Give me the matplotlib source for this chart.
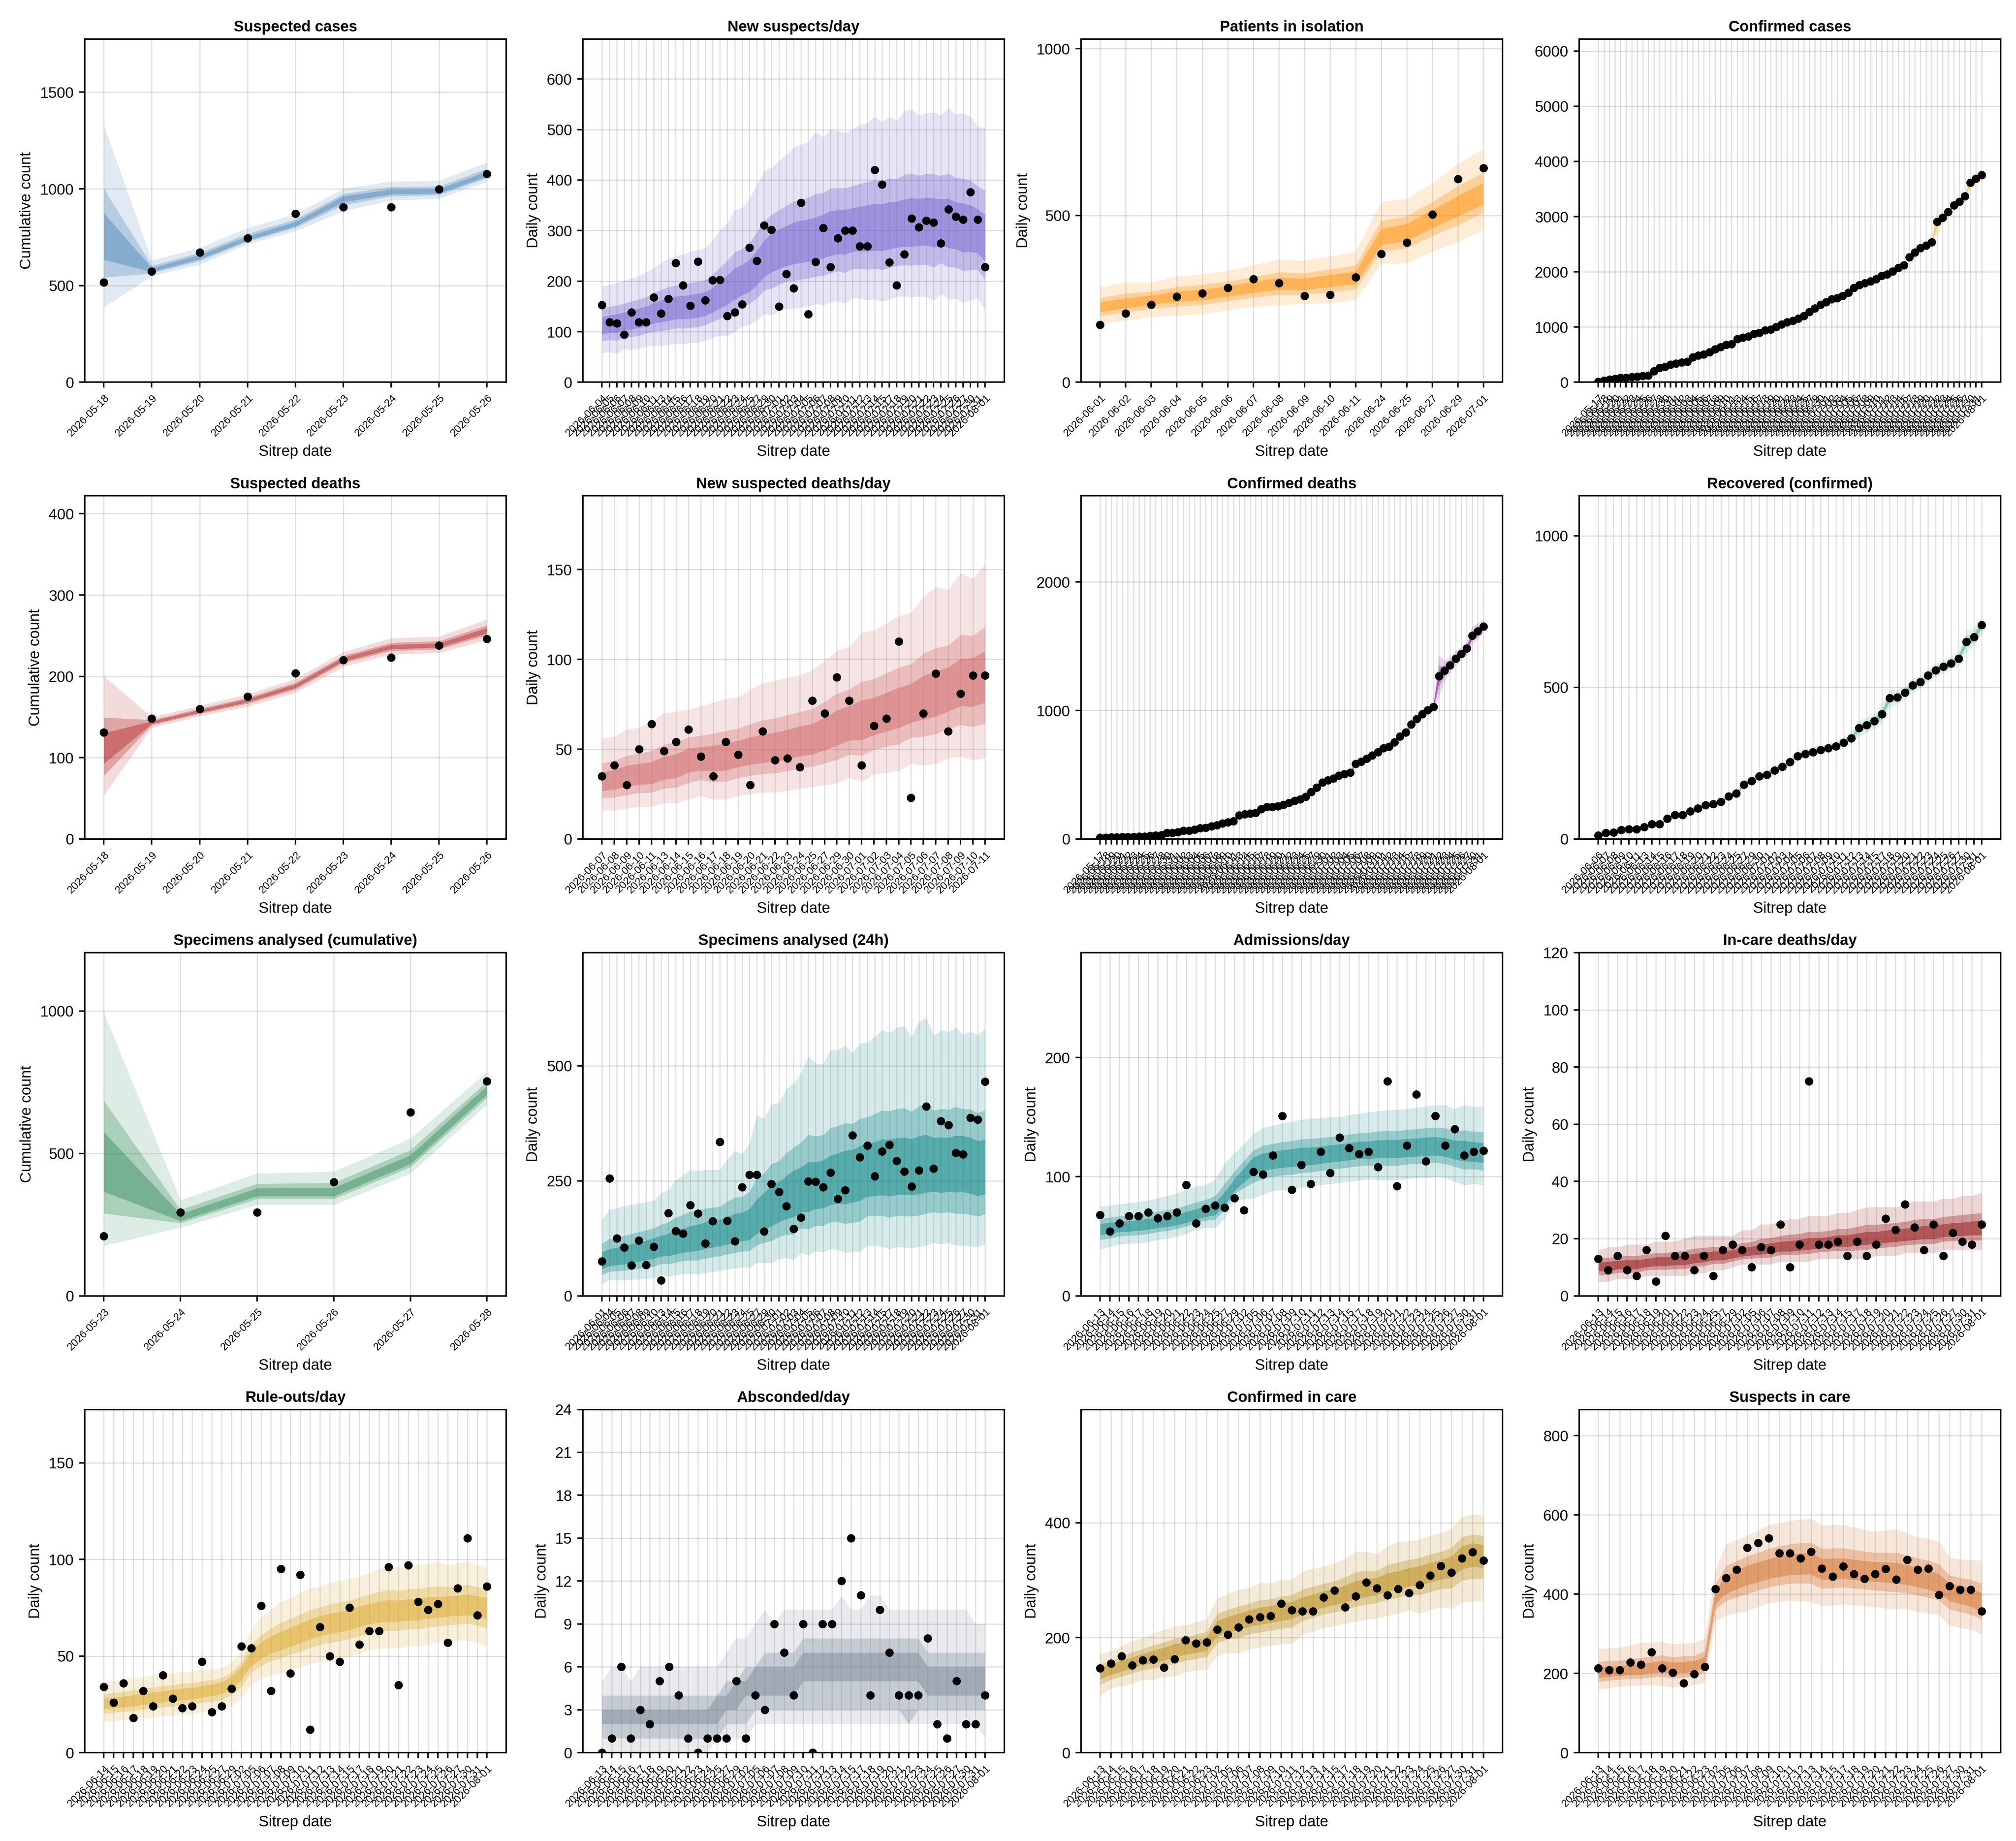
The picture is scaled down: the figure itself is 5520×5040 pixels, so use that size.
import numpy as np
import matplotlib
matplotlib.use("Agg")
import matplotlib.pyplot as plt
from matplotlib.ticker import MultipleLocator

plt.rcParams['font.family'] = ['Liberation Sans', 'DejaVu Sans']


def dates(spec):
    # spec: list of (month, [days]) -> "2026-MM-DD" labels
    out = []
    for month, days in spec:
        out += [f"2026-{month:02d}-{d:02d}" for d in days]
    return out


# ---- sitrep dates per panel ----
dates_suspected = dates([(5, [18, 19, 20, 21, 22, 23, 24, 25, 26])])
dates_spec_cum = dates([(5, [23, 24, 25, 26, 27, 28])])
dates_isolation = dates([(6, [1, 2, 3, 4, 5, 6, 7, 8, 9, 10, 11, 24, 25, 27, 29]), (7, [1])])
dates_new_susp = dates([(6, [4, 5, 6, 7, 8, 9, 10, 11, 13, 14, 15, 16, 17, 18, 19, 20, 21, 22, 23, 24, 25, 27, 29, 30]),
                        (7, [1, 2, 3, 4, 5, 6, 7, 8, 9, 10, 11, 12, 13, 14, 15, 17, 18, 19, 20, 21, 22, 23, 24, 25, 26, 27, 30, 31]),
                        (8, [1])])
dates_spec24 = dates([(6, [1, 4, 5, 6, 7, 8, 9, 10, 13, 14, 15, 16, 17, 18, 19, 20, 21, 22, 23, 24, 25, 27, 29, 30]),
                      (7, [1, 2, 3, 4, 5, 6, 7, 8, 9, 10, 11, 12, 13, 14, 15, 17, 18, 19, 20, 21, 22, 23, 24, 25, 26, 27, 30, 31]),
                      (8, [1])])
dates_new_sd = dates([(6, [7, 8, 9, 10, 11, 13, 14, 15, 16, 17, 18, 19, 20, 21, 22, 23, 24, 25, 27, 29, 30]),
                      (7, [1, 2, 3, 4, 5, 6, 7, 8, 9, 10, 11])])
dates_conf = dates([(5, [17, 18, 19, 20, 21, 22, 23, 24, 25, 26, 27, 28, 30, 31]),
                    (6, [1, 2, 3, 4, 5, 6, 7, 8, 9, 10, 11, 13, 14, 15, 16, 17, 18, 19, 20, 21, 22, 23, 24, 25, 27, 29, 30]),
                    (7, [1, 2, 3, 4, 5, 6, 7, 8, 9, 10, 11, 12, 13, 14, 15, 17, 18, 19, 20, 21, 22, 23, 24, 25, 26, 27, 30, 31]),
                    (8, [1])])
dates_recov = dates([(6, [6, 7, 8, 9, 10, 11, 13, 14, 15, 16, 17, 18, 19, 20, 21, 22, 23, 24, 25, 27, 29, 30]),
                     (7, [1, 2, 3, 4, 5, 6, 7, 8, 9, 10, 11, 12, 13, 14, 15, 17, 18, 19, 20, 21, 22, 23, 24, 25, 26, 27, 30, 31]),
                     (8, [1])])
dates_admit = dates([(6, [13, 14, 15, 16, 17, 18, 19, 20, 21, 22, 23, 24, 25, 27, 29]),
                     (7, [2, 5, 6, 7, 8, 9, 10, 11, 12, 13, 14, 15, 17, 18, 19, 20, 21, 22, 23, 24, 25, 26, 27, 30, 31]),
                     (8, [1])])
dates_ruleout = dates_admit[1:]
dates_care = dates([(6, [13, 14, 15, 16, 17, 18, 19, 20, 21, 22, 23]),
                    (7, [2, 5, 6, 7, 8, 9, 10, 11, 12, 13, 14, 15, 17, 18, 19, 20, 21, 22, 23, 24, 25, 26, 27, 30, 31]),
                    (8, [1])])

# ---- Suspected cases ----
obs_susp = [517, 574, 671, 745, 872, 905, 906, 998, 1077]
med_susp = [755, 578, 646, 740, 816, 949, 983, 986, 1074]
lo_susp = [387, 550, 609, 714, 782, 885, 941, 949, 1039]
hi_susp = [1329, 630, 695, 798, 869, 1001, 1039, 1042, 1137]

# ---- New suspects/day ----
obs_newsusp = [153, 119, 117, 94, 138, 119, 119, 168, 136, 165, 236, 192, 151, 239, 162, 202, 203, 131, 138, 154,
               266, 240, 310, 302, 150, 214, 186, 355, 135, 238, 305, 228, 285, 300, 300, 269, 269, 420, 391, 237,
               192, 253, 324, 307, 320, 316, 275, 342, 328, 322, 376, 322, 228]
med_newsusp = [113, 116, 118, 121, 125, 128, 131, 138, 142, 145, 148, 149, 150, 152, 155, 162, 172, 184, 195, 202,
               210, 225, 243, 259, 265, 271, 276, 279, 281, 282, 290, 295, 298, 300, 302, 304, 306, 307, 308, 311,
               313, 315, 317, 318, 320, 318, 317, 315, 310, 306, 304, 298, 286]
hi_newsusp = [190, 193, 196, 201, 206, 210, 218, 226, 236, 244, 250, 252, 259, 262, 265, 280, 300, 315, 341, 345,
              363, 390, 418, 425, 438, 450, 464, 470, 476, 495, 485, 500, 497, 493, 500, 509, 513, 526, 515, 525,
              518, 536, 540, 528, 532, 534, 528, 543, 530, 532, 525, 506, 503]
lo_newsusp = [58, 60, 57, 66, 64, 66, 71, 72, 72, 74, 77, 76, 78, 78, 83, 88, 92, 92, 100, 110,
              114, 122, 135, 133, 140, 145, 146, 148, 150, 155, 152, 158, 161, 156, 166, 166, 162, 164, 160, 164,
              169, 170, 168, 170, 169, 162, 175, 164, 166, 158, 162, 166, 143]

# ---- Patients in isolation ----
obs_iso = [172, 206, 233, 257, 267, 283, 309, 297, 259, 262, 315, 385, 419, 503, 609, 642]
med_iso = [226, 237, 248, 258, 264, 273, 285, 296, 294, 305, 313, 434, 451, 491, 528, 565]
lo_iso = [175, 186, 196, 200, 204, 217, 226, 232, 235, 238, 248, 355, 357, 392, 420, 457]
hi_iso = [285, 299, 299, 317, 324, 335, 351, 369, 364, 377, 392, 541, 550, 596, 655, 700]

# ---- Confirmed cases (cumulative) ----
obs_conf = [10, 30, 50, 63, 80, 85, 95, 100, 116, 122, 200, 260, 280, 323, 339, 360, 376, 450, 487, 508,
            545, 598, 635, 677, 688, 783, 809, 830, 878, 899, 941, 957, 1005, 1047, 1090, 1116, 1153, 1201, 1275, 1338,
            1407, 1455, 1502, 1524, 1561, 1624, 1709, 1762, 1793, 1830, 1867, 1926, 1957, 2010, 2074, 2121, 2269, 2349,
            2428, 2476, 2539, 2910, 2978, 3089, 3206, 3269, 3370, 3613, 3687, 3756]
spread_conf = [6, 8, 10, 10, 12, 12, 14, 14, 16, 18, 30, 25, 22, 22, 22, 22, 22, 25, 25, 25,
               25, 25, 25, 28, 28, 30, 30, 30, 30, 30, 32, 32, 35, 45, 40, 35, 35, 40, 40, 40,
               40, 40, 40, 40, 40, 40, 45, 45, 45, 45, 45, 45, 45, 45, 50, 50, 60, 55, 55, 55,
               55, 220, 90, 70, 70, 70, 70, 110, 90, 100]

# ---- Suspected deaths ----
obs_sdeath = [131, 148, 160, 175, 204, 220, 223, 238, 246]
med_sdeath = [112, 143, 157, 170, 188, 221, 236, 238, 256]
lo_sdeath = [54, 137, 151, 163, 180, 212, 227, 229, 245]
hi_sdeath = [200, 150, 164, 178, 197, 230, 247, 249, 270]

# ---- New suspected deaths/day ----
obs_newsd = [35, 41, 30, 50, 64, 49, 54, 61, 46, 35, 54, 47, 30, 60, 44, 45, 40, 77, 70, 90,
             77, 41, 63, 67, 110, 23, 70, 92, 60, 81, 91, 91]
med_newsd = [32, 33.5, 35.5, 36.5, 37, 39.5, 41, 44.5, 45, 45.5, 46.5, 48, 49.5, 50.5, 51.5, 53, 55, 56, 59, 62.5,
             65, 67, 68.5, 71, 73.5, 75.5, 79, 81, 83.5, 87.5, 88.5, 91.5]
hi_newsd = [56, 57, 61, 62, 65, 70, 71, 72, 74, 76, 78, 79, 83, 87, 88, 90, 91, 94, 99, 105,
            107, 115, 116, 120, 124, 126, 135, 140, 139, 148, 145, 153]
lo_newsd = [16, 16, 17, 18, 18, 20, 20, 22, 24, 22, 22, 24, 25, 26, 26, 27, 28, 29, 30, 31,
            34, 32, 36, 37, 38, 42, 41, 42, 45, 46, 44, 45]

# ---- Confirmed deaths (cumulative) ----
obs_cdeath = [11, 11, 14, 14, 16, 18, 18, 20, 20, 25, 27, 30, 48, 48, 55, 64, 66, 75, 86, 89,
              98, 109, 123, 132, 139, 184, 193, 198, 205, 234, 250, 250, 257, 268, 282, 298, 311, 330, 366, 400,
              441, 457, 473, 493, 505, 518, 584, 602, 625, 650, 677, 707, 720, 752, 798, 830, 893, 934, 973, 1002,
              1030, 1268, 1309, 1352, 1405, 1441, 1482, 1584, 1618, 1655]
spread_cdeath = [3, 3, 4, 4, 4, 5, 5, 5, 5, 6, 6, 6, 8, 8, 8, 8, 8, 9, 9, 10,
                 10, 10, 11, 11, 12, 14, 14, 14, 14, 15, 15, 15, 15, 16, 16, 16, 17, 17, 18, 20,
                 20, 20, 20, 22, 22, 22, 30, 25, 25, 25, 25, 26, 26, 28, 30, 30, 35, 35, 35, 35,
                 35, 160, 80, 60, 55, 50, 50, 70, 60, 55]

# ---- Recovered (confirmed, cumulative) ----
obs_recov = [12, 20, 22, 30, 32, 32, 40, 49, 49, 67, 79, 79, 92, 101, 112, 116, 123, 141, 150, 180,
             191, 207, 212, 227, 239, 254, 273, 281, 287, 294, 300, 306, 318, 333, 366, 376, 389, 412, 465, 468,
             483, 507, 518, 540, 557, 569, 579, 595, 651, 666, 706]
spread_recov = [10, 8, 8, 8, 8, 8, 8, 9, 9, 10,
                10, 10, 10, 10, 10, 10, 10, 12, 12, 15,
                15, 15, 15, 15, 15, 15, 15, 15, 15, 15,
                15, 15, 18, 20, 25, 25, 25, 30, 30, 25,
                22, 22, 22, 22, 22, 22, 22, 25, 35, 30,
                30]

# ---- Specimens analysed (cumulative) ----
obs_speccum = [210, 293, 293, 400, 645, 753]
med_speccum = [474, 272, 361, 361, 475, 720]
lo_speccum = [176, 240, 320, 320, 430, 672]
hi_speccum = [994, 336, 430, 436, 552, 786]

# ---- Specimens analysed (24h) ----
obs_spec24 = [75, 255, 125, 105, 66, 120, 67, 107, 34, 180, 141, 135, 197, 179, 114, 162, 335, 163, 119, 236,
              263, 263, 140, 243, 226, 195, 146, 170, 249, 248, 236, 268, 211, 230, 349, 301, 327, 260, 314, 328,
              293, 270, 238, 273, 412, 277, 380, 371, 311, 308, 387, 383, 466]
med_spec24 = [78, 82, 85, 88, 92, 96, 100, 105, 108, 112, 116, 119, 123, 127, 132, 135, 138, 142, 146, 150,
              155, 168, 185, 198, 205, 215, 226, 230, 236, 239, 244, 250, 256, 260, 266, 271, 275, 278, 282, 283,
              284, 285, 286, 287, 289, 288, 287, 287, 290, 292, 287, 280, 281]
hi_spec24 = [166, 188, 190, 195, 198, 201, 204, 207, 223, 230, 252, 262, 274, 272, 274, 274, 274, 296, 315, 309,
             331, 392, 385, 417, 420, 449, 462, 484, 521, 506, 503, 535, 534, 544, 527, 549, 551, 563, 578, 572,
             583, 587, 563, 595, 605, 565, 578, 573, 584, 568, 574, 567, 581]
lo_spec24 = [26, 34, 34, 34, 35, 36, 38, 38, 45, 42, 45, 48, 48, 47, 50, 52, 54, 57, 60, 62,
             61, 72, 72, 71, 80, 82, 78, 94, 88, 97, 95, 102, 100, 94, 95, 96, 109, 108, 107, 102,
             106, 105, 104, 106, 110, 115, 112, 115, 110, 109, 108, 106, 112]

# ---- Admissions/day ----
obs_admit = [68, 54, 61, 67, 67, 70, 65, 67, 70, 93, 61, 73, 76, 74, 82, 72, 104, 102, 118, 151,
             89, 110, 94, 121, 103, 133, 124, 119, 121, 108, 180, 92, 126, 169, 113, 151, 126, 140, 118, 121, 122]
med_admit = [56, 57, 58, 58, 59, 60, 61, 62, 63, 65, 67, 70, 72, 80, 91, 101, 110, 113, 114, 115,
             116, 117, 117, 118, 119, 120, 121, 122, 122, 123, 123, 123, 124, 124, 125, 125, 124, 122, 121, 120, 119]
hi_admit = [75, 76, 77, 78, 79, 80, 82, 84, 86, 89, 92, 93, 98, 111, 120, 127, 136, 141, 143, 145,
            146, 148, 149, 149, 150, 150, 152, 153, 154, 155, 156, 156, 157, 158, 159, 160, 160, 157, 160, 159, 159]
lo_admit = [39, 41, 43, 44, 44, 45, 47, 48, 50, 52, 56, 57, 57, 65, 80, 81, 82, 85, 88, 89,
            89, 91, 92, 93, 94, 95, 96, 97, 98, 97, 97, 97, 98, 99, 99, 100, 99, 96, 93, 94, 93]

# ---- In-care deaths/day ----
obs_icd = [13, 9, 14, 9, 7, 16, 5, 21, 14, 14, 9, 14, 7, 16, 18, 16, 10, 17, 16, 25,
           10, 18, 75, 18, 18, 19, 14, 19, 14, 18, 27, 23, 32, 24, 16, 25, 14, 22, 19, 18, 25]
med_icd = [10.5, 10.5, 11, 11, 11, 11.5, 12, 12, 12.5, 12.5, 13, 13.5, 14, 14, 14.5, 15, 15.5, 16, 16.5, 17,
           17, 17.5, 18, 18, 18.5, 19, 19, 19.5, 20, 20, 20.5, 21, 21, 21.5, 22, 22, 22.5, 23, 23, 23.5, 23.5]
hi_icd = [16, 17, 17, 18, 18, 18, 19, 19, 19, 20, 21, 21, 21, 21, 21, 23, 23, 25, 25, 26,
          27, 27, 28, 28, 28, 29, 29, 30, 31, 31, 31, 31, 32, 33, 33, 33, 34, 34, 35, 35, 36]
lo_icd = [5, 5, 6, 6, 6, 7, 7, 7, 7, 7, 8, 8, 9, 9, 10, 11, 11, 11, 11, 12,
          12, 12, 12, 13, 13, 13, 13, 13, 13, 14, 14, 14, 15, 15, 15, 15, 16, 16, 16, 16, 16]

# ---- Rule-outs/day ----
obs_rule = [34, 26, 36, 18, 32, 24, 40, 28, 23, 24, 47, 21, 24, 33, 55, 54, 76, 32, 95, 41,
            92, 12, 65, 50, 47, 75, 56, 63, 63, 96, 35, 97, 78, 74, 77, 57, 85, 111, 71, 86]
med_rule = [25.5, 26, 26.5, 27, 28, 28.5, 29, 30, 30.5, 31, 32, 33, 34, 37, 42, 49, 53, 56, 58, 60,
            62, 64, 66, 67, 68, 69, 71, 72, 73, 73.5, 73.5, 74, 74, 75, 75, 76, 76, 76.5, 76, 75]
hi_rule = [36, 37, 38, 39, 39, 40, 41, 41, 42, 42, 43, 43, 44, 47, 52, 64, 70, 74, 78, 80,
           83, 85, 86, 88, 89, 90, 91, 93, 95, 97, 96, 97, 97, 98, 99, 97, 98, 99, 97, 96]
lo_rule = [16, 16.5, 17, 17, 18, 18, 19, 19, 20, 20, 21, 21, 22, 24, 28, 35, 38, 40, 41, 43,
           44, 46, 47, 48, 49, 50, 51, 53, 54, 54, 54, 55, 55, 56, 57, 57, 58, 58, 57, 55]

# ---- Absconded/day (integer quantile bands) ----
obs_absc = [0, 1, 6, 1, 3, 2, 5, 6, 4, 1, 0, 1, 1, 1, 5, 1, 4, 3, 9, 7,
            4, 9, 0, 9, 9, 12, 15, 11, 4, 10, 7, 4, 4, 4, 8, 2, 1, 5, 2, 2, 4]
lo99_absc = [0, 0, 0, 0, 0, 0, 0, 0, 0, 0, 0, 0, 1, 1, 1, 1, 2, 2, 2, 2,
             2, 2, 2, 2, 2, 2, 2, 2, 2, 2, 2, 2, 2, 2, 2, 2, 2, 2, 2, 2, 1]
hi99_absc = [5, 6, 6, 5, 6, 6, 6, 6, 6, 6, 6, 6, 6, 7, 8, 8, 9, 10, 9, 10,
             10, 10, 10, 10, 10, 11, 10, 10, 11, 11, 10, 10, 10, 10, 10, 10, 10, 10, 10, 9, 9]
lo80_absc = [1, 1, 1, 1, 1, 1, 1, 1, 1, 1, 1, 1, 1, 2, 2, 2, 3, 3, 3, 3,
             3, 3, 3, 3, 3, 3, 3, 3, 3, 3, 3, 3, 2, 3, 3, 3, 3, 3, 3, 3, 3]
hi80_absc = [4, 4, 4, 4, 4, 4, 4, 4, 4, 4, 4, 4, 4, 5, 5, 6, 6, 7, 7, 7,
             7, 8, 8, 8, 8, 8, 8, 8, 8, 8, 8, 8, 8, 8, 7, 7, 7, 7, 7, 7, 7]
lo50_absc = [2, 2, 2, 2, 2, 2, 2, 2, 2, 2, 2, 2, 2, 3, 3, 4, 4, 4, 4, 4,
             4, 5, 5, 5, 5, 5, 5, 5, 5, 5, 5, 5, 5, 5, 4, 4, 4, 4, 4, 4, 4]
hi50_absc = [3, 3, 3, 3, 3, 3, 3, 3, 3, 3, 3, 3, 4, 4, 5, 5, 6, 6, 6, 6,
             6, 7, 7, 7, 7, 7, 7, 7, 7, 7, 7, 7, 7, 7, 6, 6, 6, 6, 6, 6, 6]

# ---- Confirmed in care ----
obs_cic = [147, 155, 168, 152, 161, 162, 148, 163, 196, 190, 192, 214, 205, 218, 232, 236, 238, 259, 248, 246,
           246, 270, 282, 253, 272, 296, 286, 274, 285, 278, 292, 308, 325, 313, 338, 349, 334]
med_cic = [140, 145, 152, 157, 163, 168, 173, 179, 183, 186, 190, 217, 224, 229, 235, 239, 242, 246, 250, 256,
           261, 267, 271, 276, 282, 287, 291, 297, 300, 306, 310, 315, 320, 326, 343, 348, 345]
hi_cic = [171, 177, 186, 194, 200, 208, 214, 220, 222, 227, 233, 269, 276, 283, 287, 295, 295, 301, 301, 315,
          320, 324, 329, 338, 350, 350, 345, 360, 366, 368, 371, 378, 382, 390, 410, 415, 413]
lo_cic = [99, 112, 115, 121, 126, 127, 131, 133, 140, 143, 145, 168, 173, 173, 180, 183, 186, 189, 189, 205,
          211, 217, 220, 224, 228, 231, 233, 238, 242, 248, 242, 248, 253, 250, 261, 263, 264]

# ---- Suspects in care ----
obs_sic = [213, 208, 208, 228, 222, 254, 213, 202, 175, 198, 217, 413, 441, 462, 517, 529, 541, 503, 503, 490,
           507, 465, 444, 470, 451, 439, 451, 464, 437, 487, 462, 465, 398, 420, 411, 411, 357]
med_sic = [201, 203, 204, 206, 207, 212, 217, 213, 215, 217, 228, 392, 422, 436, 448, 455, 462, 468, 474, 476,
           477, 462, 463, 464, 461, 459, 457, 455, 452, 448, 442, 436, 425, 407, 400, 392, 377]
hi_sic = [262, 264, 265, 271, 277, 279, 280, 274, 276, 277, 288, 462, 526, 537, 548, 561, 574, 580, 585, 588,
          590, 574, 575, 575, 569, 563, 558, 561, 564, 554, 544, 540, 533, 492, 488, 486, 485]
lo_sic = [159, 163, 167, 169, 170, 170, 169, 165, 168, 170, 180, 332, 347, 352, 358, 368, 377, 381, 384, 383,
          381, 370, 372, 375, 372, 370, 367, 364, 363, 362, 356, 351, 347, 321, 315, 310, 299]


def cum(obs, spread):
    obs = np.asarray(obs, float)
    spread = np.asarray(spread, float)
    return dict(obs=obs, med=obs, lo=obs - spread, hi=obs + spread)


panels = [
    dict(title="Suspected cases", dates=dates_suspected, obs=obs_susp, med=med_susp, lo=lo_susp, hi=hi_susp,
         color="steelblue", ylabel="Cumulative count", ymax=1775, ystep=500),
    dict(title="New suspects/day", dates=dates_new_susp, obs=obs_newsusp, med=med_newsusp, lo=lo_newsusp,
         hi=hi_newsusp, color="slateblue", ylabel="Daily count", ymax=679, ystep=100),
    dict(title="Patients in isolation", dates=dates_isolation, obs=obs_iso, med=med_iso, lo=lo_iso, hi=hi_iso,
         color="darkorange", ylabel="Daily count", ymax=1029, ystep=500),
    dict(title="Confirmed cases", dates=dates_conf, **cum(obs_conf, spread_conf),
         color="orange", ylabel="", ymax=6217, ystep=1000),
    dict(title="Suspected deaths", dates=dates_suspected, obs=obs_sdeath, med=med_sdeath, lo=lo_sdeath,
         hi=hi_sdeath, color="firebrick", ylabel="Cumulative count", ymax=422, ystep=100),
    dict(title="New suspected deaths/day", dates=dates_new_sd, obs=obs_newsd, med=med_newsd, lo=lo_newsd,
         hi=hi_newsd, color="indianred", ylabel="Daily count", ymax=191, ystep=50),
    dict(title="Confirmed deaths", dates=dates_conf, **cum(obs_cdeath, spread_cdeath),
         color="purple", ylabel="", ymax=2670, ystep=1000),
    dict(title="Recovered (confirmed)", dates=dates_recov, **cum(obs_recov, spread_recov),
         color="mediumseagreen", ylabel="", ymax=1132, ystep=500),
    dict(title="Specimens analysed (cumulative)", dates=dates_spec_cum, obs=obs_speccum, med=med_speccum,
         lo=lo_speccum, hi=hi_speccum, color="seagreen", ylabel="Cumulative count", ymax=1205, ystep=500),
    dict(title="Specimens analysed (24h)", dates=dates_spec24, obs=obs_spec24, med=med_spec24, lo=lo_spec24,
         hi=hi_spec24, color="teal", ylabel="Daily count", ymax=746, ystep=250),
    dict(title="Admissions/day", dates=dates_admit, obs=obs_admit, med=med_admit, lo=lo_admit, hi=hi_admit,
         color="teal", ylabel="Daily count", ymax=288, ystep=100),
    dict(title="In-care deaths/day", dates=dates_admit, obs=obs_icd, med=med_icd, lo=lo_icd, hi=hi_icd,
         color="darkred", ylabel="Daily count", ymax=120, ystep=20),
    dict(title="Rule-outs/day", dates=dates_ruleout, obs=obs_rule, med=med_rule, lo=lo_rule, hi=hi_rule,
         color="goldenrod", ylabel="Daily count", ymax=177.6, ystep=50),
    dict(title="Absconded/day", dates=dates_admit, obs=obs_absc,
         bands=[(lo99_absc, hi99_absc), (lo80_absc, hi80_absc), (lo50_absc, hi50_absc)],
         color="slategray", ylabel="Daily count", ymax=24, ystep=3),
    dict(title="Confirmed in care", dates=dates_care, obs=obs_cic, med=med_cic, lo=lo_cic, hi=hi_cic,
         color="darkgoldenrod", ylabel="Daily count", ymax=597, ystep=200),
    dict(title="Suspects in care", dates=dates_care, obs=obs_sic, med=med_sic, lo=lo_sic, hi=hi_sic,
         color="chocolate", ylabel="Daily count", ymax=866, ystep=200),
]

# inner bands from the outer (99%) band: 50% and 80% levels, log-scale
Z50, Z80 = 0.674 / 2.576, 1.282 / 2.576
ALPHAS = [0.16, 0.29, 0.42]


def draw(ax, p):
    x = np.arange(len(p['dates']))
    if 'bands' in p:
        bands = p['bands']
    else:
        med = np.asarray(p['med'], float)
        lo = np.asarray(p['lo'], float)
        hi = np.asarray(p['hi'], float)
        bands = [(lo, hi),
                 (med * (lo / med) ** Z80, med * (hi / med) ** Z80),
                 (med * (lo / med) ** Z50, med * (hi / med) ** Z50)]
    for (b_lo, b_hi), a in zip(bands, ALPHAS):
        ax.fill_between(x, b_lo, b_hi, color=p['color'], alpha=a, linewidth=0, zorder=1)
    ax.scatter(x, p['obs'], s=30, color='black', zorder=3, linewidths=0)

    ax.set_title(p['title'], fontsize=10, fontweight='bold', pad=5)
    ax.set_xticks(x)
    ax.set_xticklabels(p['dates'], rotation=45, ha='right', rotation_mode='anchor', fontsize=7)
    ax.margins(x=0.05)
    ax.set_ylim(0, p['ymax'])
    ax.yaxis.set_major_locator(MultipleLocator(p['ystep']))
    ax.tick_params(axis='y', labelsize=10, length=3.5, width=1)
    ax.tick_params(axis='x', length=3.5, width=1)
    ax.set_xlabel("Sitrep date", fontsize=10)
    if p['ylabel']:
        ax.set_ylabel(p['ylabel'], fontsize=10)
    ax.grid(True, color='black', alpha=0.12, linewidth=0.8)
    ax.set_axisbelow(True)
    for s in ax.spines.values():
        s.set_linewidth(1.0)


fig, axes = plt.subplots(4, 4, figsize=(18.4, 16.8), dpi=300)
fig.subplots_adjust(left=0.042, right=0.9924, bottom=0.048, top=0.9788, wspace=0.182, hspace=0.331)

for ax, p in zip(axes.flat, panels):
    draw(ax, p)

fig.savefig("out.png", dpi=300)
